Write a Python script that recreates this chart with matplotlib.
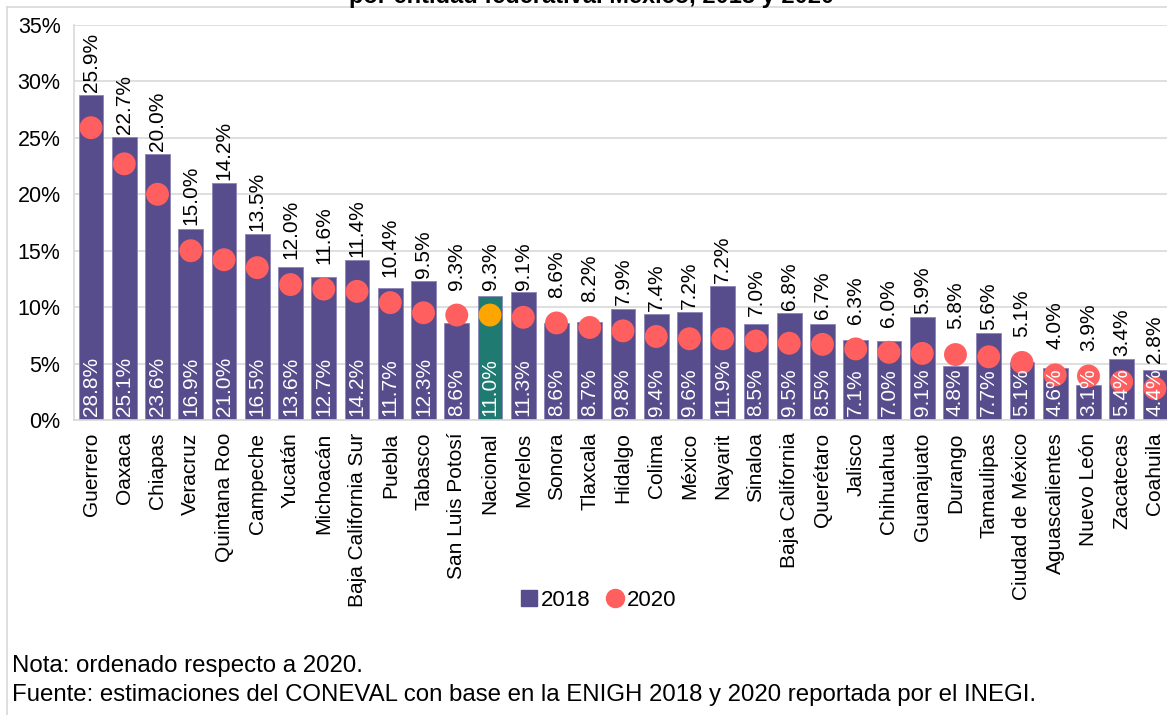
import matplotlib
matplotlib.use("Agg")
import matplotlib.pyplot as plt
from matplotlib.lines import Line2D
import numpy as np

plt.rcParams['font.family'] = ['Liberation Sans', 'DejaVu Sans']

states = ["Guerrero", "Oaxaca", "Chiapas", "Veracruz", "Quintana Roo", "Campeche",
          "Yucatán", "Michoacán", "Baja California Sur", "Puebla", "Tabasco",
          "San Luis Potosí", "Nacional", "Morelos", "Sonora", "Tlaxcala", "Hidalgo",
          "Colima", "México", "Nayarit", "Sinaloa", "Baja California", "Querétaro",
          "Jalisco", "Chihuahua", "Guanajuato", "Durango", "Tamaulipas",
          "Ciudad de México", "Aguascalientes", "Nuevo León", "Zacatecas", "Coahuila"]
v2018 = [28.8, 25.1, 23.6, 16.9, 21.0, 16.5, 13.6, 12.7, 14.2, 11.7, 12.3, 8.6, 11.0,
         11.3, 8.6, 8.7, 9.8, 9.4, 9.6, 11.9, 8.5, 9.5, 8.5, 7.1, 7.0, 9.1, 4.8, 7.7,
         5.1, 4.6, 3.1, 5.4, 4.4]
v2020 = [25.9, 22.7, 20.0, 15.0, 14.2, 13.5, 12.0, 11.6, 11.4, 10.4, 9.5, 9.3, 9.3,
         9.1, 8.6, 8.2, 7.9, 7.4, 7.2, 7.2, 7.0, 6.8, 6.7, 6.3, 6.0, 5.9, 5.8, 5.6,
         5.1, 4.0, 3.9, 3.4, 2.8]
yticks = [0, 5, 10, 15, 20, 25, 30, 35]
title = "por entidad federativa. México, 2018 y 2020"
note1 = "Nota: ordenado respecto a 2020."
note2 = "Fuente: estimaciones del CONEVAL con base en la ENIGH 2018 y 2020 reportada por el INEGI."

PURPLE = "#574C8C"
TEAL = "#1F7A72"
RED = "#FF5F5F"
ORANGE = "#FFA500"

W, H = 1167, 715
fig = plt.figure(figsize=(W / 100, H / 100), dpi=100)
fig.patch.set_facecolor("white")

left_px, right_px = 74.4, 1171.6
top_px, bot_px = 25, 420
ax = fig.add_axes([left_px / W, 1 - bot_px / H, (right_px - left_px) / W, (bot_px - top_px) / H])

x = np.arange(len(states))
is_nat = np.array([s == "Nacional" for s in states])
bar_colors = [TEAL if n else PURPLE for n in is_nat]
dot_colors = [ORANGE if n else RED for n in is_nat]

ax.bar(x, v2018, width=0.75, color=bar_colors, edgecolor="#8C84B8", linewidth=0.6, zorder=2)
ax.scatter(x, v2020, s=16.5 ** 2, c=dot_colors, zorder=3, linewidths=0)

for xi, b, d in zip(x, v2018, v2020):
    ax.text(xi, 0.35, f"{b:.1f}%", rotation=90, ha="center", va="bottom",
            color="white", fontsize=15, zorder=4)
    ytop = max(b, d + 2.0) + 0.25
    ax.text(xi, ytop, f"{d:.1f}%", rotation=90, ha="center", va="bottom",
            color="black", fontsize=15, zorder=4)

ax.set_xlim(-0.5, len(states) - 0.5)
ax.set_ylim(0, 35)
ax.set_yticks(yticks)
ax.set_yticklabels([f"{t}%" for t in yticks], fontsize=15.5)
ax.set_xticks(x)
ax.set_xticklabels(states, rotation=90, fontsize=15)
ax.tick_params(axis="both", length=0)
ax.tick_params(axis="x", pad=9)
ax.tick_params(axis="y", pad=10)
ax.grid(axis="y", color="#D9D9D9", linewidth=1.2, zorder=0)
ax.set_axisbelow(True)
for s in ["top", "right"]:
    ax.spines[s].set_visible(False)
ax.spines["left"].set_color("#D9D9D9")
ax.spines["bottom"].set_color("#D9D9D9")
ax.spines["left"].set_linewidth(1.2)
ax.spines["bottom"].set_linewidth(1.2)

handles = [Line2D([], [], marker="s", linestyle="none", color=PURPLE, markersize=11),
           Line2D([], [], marker="o", linestyle="none", color=RED, markersize=13)]
fig.legend(handles, ["2018", "2020"], loc="center", bbox_to_anchor=(597 / W, 1 - 600 / H),
           ncol=2, frameon=False, fontsize=16, handletextpad=0.05, columnspacing=0.6,
           handlelength=1.0)

fig.text(12 / W, 1 - 666 / H, note1, fontsize=17.3, va="center", ha="left")
fig.text(12 / W, 1 - 695 / H, note2, fontsize=17.3, va="center", ha="left")

fig.text(592 / W, 1 - 3 / H, title, fontsize=17, fontweight="bold", ha="center", va="baseline")

fig.add_artist(Line2D([7 / W, 1], [1 - 7 / H, 1 - 7 / H], color="#D9D9D9", linewidth=1.2))
fig.add_artist(Line2D([7 / W, 7 / W], [0, 1 - 7 / H], color="#D9D9D9", linewidth=1.2))

fig.savefig("out.png", dpi=100)
